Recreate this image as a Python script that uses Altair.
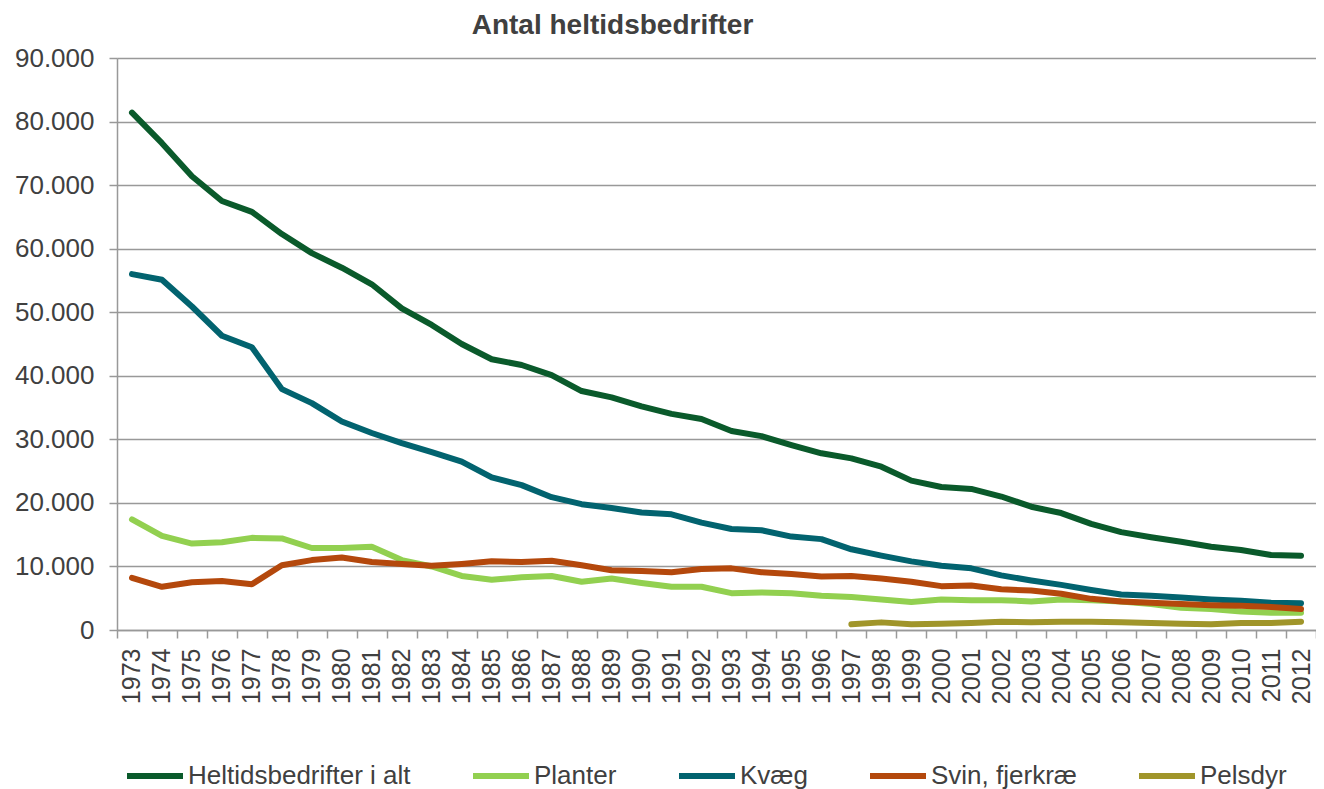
import altair as alt
import pandas as pd

years = [1973, 1974, 1975, 1976, 1977, 1978, 1979, 1980, 1981, 1982,
         1983, 1984, 1985, 1986, 1987, 1988, 1989, 1990, 1991, 1992,
         1993, 1994, 1995, 1996, 1997, 1998, 1999, 2000, 2001, 2002,
         2003, 2004, 2005, 2006, 2007, 2008, 2009, 2010, 2011, 2012]

heltid_i_alt = [81400, 76600, 71400, 67500, 65800, 62300, 59300, 57000, 54400, 50600,
                48000, 45000, 42600, 41700, 40100, 37600, 36600, 35200, 34000, 33200,
                31300, 30500, 29100, 27800, 27000, 25700, 23500, 22500, 22200, 21000,
                19400, 18400, 16700, 15400, 14600, 13900, 13100, 12600, 11800, 11700]

planter = [17400, 14800, 13600, 13800, 14500, 14400, 12900, 12900, 13100, 11000,
           10000, 8500, 7900, 8300, 8500, 7600, 8100, 7400, 6800, 6800,
           5800, 5900, 5800, 5400, 5200, 4800, 4400, 4800, 4700, 4700,
           4500, 4800, 4700, 4500, 4100, 3500, 3300, 2900, 2700, 2700]

kvaeg = [56000, 55100, 50900, 46300, 44500, 37900, 35700, 32800, 31000, 29400,
         28000, 26500, 24000, 22800, 20900, 19800, 19200, 18500, 18200, 16900,
         15900, 15700, 14700, 14300, 12700, 11700, 10800, 10100, 9700, 8600,
         7800, 7100, 6300, 5600, 5400, 5100, 4800, 4600, 4300, 4200]

svin_fjerkrae = [8200, 6800, 7500, 7700, 7200, 10200, 11000, 11400, 10700, 10400,
                 10100, 10400, 10800, 10700, 10900, 10200, 9400, 9300, 9100, 9600,
                 9700, 9100, 8800, 8400, 8500, 8100, 7600, 6900, 7000, 6400,
                 6200, 5700, 4900, 4500, 4300, 4100, 3900, 3800, 3600, 3300]

pelsdyr = [None] * 24 + [900, 1200, 900, 1000, 1100, 1300, 1200, 1300,
                         1300, 1200, 1100, 1000, 900, 1100, 1100, 1300]

series_names = ["Heltidsbedrifter i alt", "Planter", "Kvæg", "Svin, fjerkræ", "Pelsdyr"]
series_values = [heltid_i_alt, planter, kvaeg, svin_fjerkrae, pelsdyr]
series_colors = ["#0a5a2b", "#92d050", "#02636f", "#b4480c", "#a0952a"]
y_ticks = [0, 10000, 20000, 30000, 40000, 50000, 60000, 70000, 80000, 90000]

rows = []
for name, vals in zip(series_names, series_values):
    for yr, v in zip(years, vals):
        if v is not None:
            rows.append({"År": str(yr), "Serie": name, "Antal": v})
df = pd.DataFrame(rows)

font = "Liberation Sans"
grey = "#999999"
text_col = "#404040"

chart = alt.Chart(df).mark_line(strokeWidth=6, strokeJoin="round", strokeCap="round").encode(
    x=alt.X("År:O",
            sort=[str(y) for y in years],
            scale=alt.Scale(type="band", paddingInner=0, paddingOuter=0),
            bandPosition=0.5,
            axis=alt.Axis(title=None, labelAngle=-90, labelFontSize=25, labelFont=font,
                          labelColor=text_col, labelPadding=10, tickSize=8, tickColor=grey,
                          tickWidth=1.5, domainColor=grey, domainWidth=1.5, grid=False,
                          tickBand="extent")),
    y=alt.Y("Antal:Q",
            scale=alt.Scale(domain=[0, 90000], nice=False),
            axis=alt.Axis(title=None, values=y_ticks,
                          labelExpr="replace(format(datum.value, ','), ',', '.')",
                          labelFontSize=26, labelFont=font, labelColor=text_col,
                          labelPadding=15, tickSize=8, tickColor=grey, tickWidth=1.5,
                          domainColor=grey, domainWidth=1.5, gridColor=grey, gridWidth=1.5)),
    color=alt.Color("Serie:N",
                    scale=alt.Scale(domain=series_names, range=series_colors),
                    sort=series_names,
                    legend=alt.Legend(title=None, orient="none", direction="horizontal",
                                      columns=5, legendX=7, legendY=687,
                                      symbolType="stroke", symbolSize=3136,
                                      symbolStrokeWidth=6, labelFontSize=26,
                                      labelFont=font, labelColor=text_col,
                                      labelOffset=2, columnPadding=50,
                                      labelLimit=400)),
    order=alt.Order("År:O"),
).properties(
    width=1199,
    height=572,
    autosize=alt.AutoSizeParams(type="none"),
    padding={"left": 109, "top": 50, "right": 0, "bottom": 159},
    title=alt.TitleParams("Antal heltidsbedrifter", fontSize=28, font=font,
                          fontWeight="bold", color=text_col, anchor="middle",
                          frame="group", dx=-104, offset=5),
).configure_view(stroke=None).configure(background="white")

chart.save("out.html", embed_options={"renderer": "svg", "actions": False})
